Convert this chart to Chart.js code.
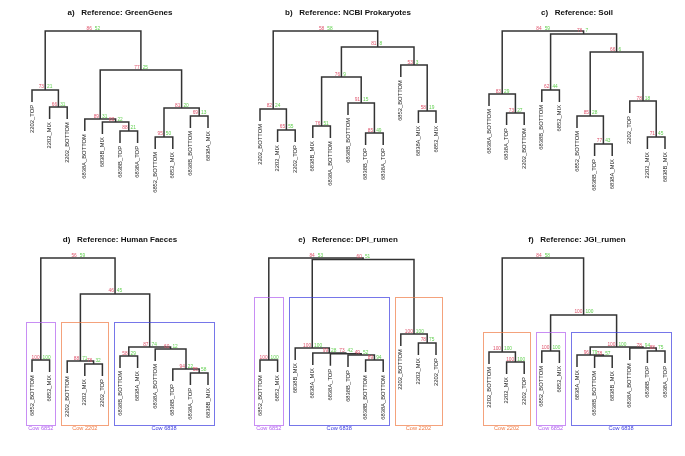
<!DOCTYPE html>
<html>
<head>
<meta charset="utf-8">
<script src="https://cdn.jsdelivr.net/npm/chart.js@4"></script>
<style>
  body { margin: 0; background: #fff; }
  #wrap { position: relative; width: 685px; height: 456px; }
  #wrap canvas { position: absolute; }
</style>
</head>
<body>
<div id="wrap"></div>
<script>
// leaf order, merges (hclust style: -n = leaf n, +k = merge k), heights, AU / BP values

const leavesA = ["2202_TOP", "2202_MIX", "2202_BOTTOM", "6838A_BOTTOM", "6838B_MIX", "6838B_TOP", "6838A_TOP", "6852_BOTTOM", "6852_MIX", "6838B_BOTTOM", "6838A_MIX"]
const mergeA = [[-8, -9], [-6, -7], [-5, 2], [-4, 3], [-10, -11], [1, 5], [-2, -3], [-1, 7], [4, 6], [8, 9]]
const heightA = [0.243, 0.286, 0.35, 0.371, 0.393, 0.45, 0.457, 0.579, 0.721, 1.0]
const auA = [95, 88, 80, 89, 69, 81, 66, 73, 77, 86]
const bpA = [50, 21, 22, 31, 13, 20, 31, 21, 25, 52]

const leavesB = ["2202_BOTTOM", "2202_MIX", "2202_TOP", "6838B_MIX", "6838A_BOTTOM", "6838B_BOTTOM", "6838B_TOP", "6838A_TOP", "6852_BOTTOM", "6838A_MIX", "6852_MIX"]
const mergeB = [[-7, -8], [-4, -5], [-2, -3], [-6, 1], [-10, -11], [-1, 3], [2, 4], [-9, 5], [7, 8], [6, 9]]
const heightB = [0.271, 0.321, 0.293, 0.486, 0.429, 0.443, 0.671, 0.757, 0.886, 1.0]
const auB = [85, 76, 65, 91, 58, 82, 76, 53, 81, 58]
const bpB = [49, 51, 55, 15, 19, 24, 9, 3, 8, 58]

const leavesC = ["6838A_BOTTOM", "6838A_TOP", "2202_BOTTOM", "6838B_BOTTOM", "6852_MIX", "6852_BOTTOM", "6838B_TOP", "6838A_MIX", "2202_TOP", "2202_MIX", "6838B_MIX"]
const mergeC = [[-7, -8], [-10, -11], [-2, -3], [-6, 1], [-9, 2], [-4, -5], [-1, 3], [4, 5], [6, 8], [7, 9]]
const heightC = [0.193, 0.243, 0.414, 0.393, 0.5, 0.579, 0.55, 0.85, 0.979, 1.0]
const auC = [77, 71, 73, 85, 78, 62, 83, 66, 76, 84]
const bpC = [43, 45, 27, 28, 18, 44, 29, 6, 7, 59]

const leavesD = ["6852_BOTTOM", "6852_MIX", "2202_BOTTOM", "2202_MIX", "2202_TOP", "6838B_BOTTOM", "6838A_MIX", "6838A_BOTTOM", "6838B_TOP", "6838A_TOP", "6838B_MIX"]
const mergeD = [[-10, -11], [-9, 1], [-4, -5], [-3, 3], [-1, -2], [-6, -7], [-8, 2], [6, 7], [4, 8], [5, 9]]
const heightD = [0.179, 0.207, 0.243, 0.264, 0.271, 0.3, 0.35, 0.364, 0.743, 1.0]
const auD = [55, 94, 76, 88, 100, 58, 60, 87, 46, 56]
const bpD = [58, 22, 32, 71, 100, 29, 12, 74, 45, 59]
const groupsD = [["Cow 6852", 1, 2], ["Cow 2202", 3, 5], ["Cow 6838", 6, 11]]

const leavesE = ["6852_BOTTOM", "6852_MIX", "6838B_MIX", "6838A_MIX", "6838A_TOP", "6838B_TOP", "6838B_BOTTOM", "6838A_BOTTOM", "2202_BOTTOM", "2202_MIX", "2202_TOP"]
const mergeE = [[-7, -8], [-6, 1], [-5, 2], [-4, 3], [-3, 4], [-1, -2], [-10, -11], [-9, 7], [5, 8], [6, 9]]
const heightE = [0.271, 0.307, 0.316, 0.321, 0.357, 0.271, 0.393, 0.457, 0.99, 1.0]
const auE = [89, 49, 73, 99, 100, 100, 78, 100, 60, 84]
const bpE = [94, 52, 42, 28, 100, 100, 75, 100, 51, 53]
const groupsE = [["Cow 6852", 1, 2], ["Cow 6838", 3, 8], ["Cow 2202", 9, 11]]

const leavesF = ["2202_BOTTOM", "2202_MIX", "2202_TOP", "6852_BOTTOM", "6852_MIX", "6838A_MIX", "6838B_BOTTOM", "6838B_MIX", "6838A_BOTTOM", "6838B_TOP", "6838A_TOP"]
const mergeF = [[-2, -3], [-1, 1], [-4, -5], [-7, -8], [-6, 4], [-10, -11], [-9, 6], [5, 7], [3, 8], [2, 9]]
const heightF = [0.257, 0.329, 0.336, 0.3, 0.307, 0.336, 0.357, 0.364, 0.593, 1.0]
const auF = [100, 100, 100, 78, 96, 88, 78, 100, 100, 84]
const bpF = [100, 100, 100, 57, 79, 75, 94, 100, 100, 58]
const groupsF = [["Cow 2202", 1, 3], ["Cow 6852", 4, 5], ["Cow 6838", 6, 11]]

const cowColors = { "Cow 6852": "#b05ef0", "Cow 2202": "#f07a45", "Cow 6838": "#3c3ce0" }

const FONT = "'Liberation Sans', Arial, Helvetica, sans-serif"
const HANG = 0.086
const LINE = "#333333"

const panels = [
  { title: "a)   Reference: GreenGenes", leaves: leavesA, merge: mergeA, height: heightA, au: auA, bp: bpA, left: 0, top: 0 },
  { title: "b)   Reference: NCBI Prokaryotes", leaves: leavesB, merge: mergeB, height: heightB, au: auB, bp: bpB, left: 228, top: 0 },
  { title: "c)   Reference: Soil", leaves: leavesC, merge: mergeC, height: heightC, au: auC, bp: bpC, left: 457, top: 0 },
  { title: "d)   Reference: Human Faeces", leaves: leavesD, merge: mergeD, height: heightD, au: auD, bp: bpD, groups: groupsD, boxTop: 0.543, left: 0, top: 228 },
  { title: "e)   Reference: DPI_rumen", leaves: leavesE, merge: mergeE, height: heightE, au: auE, bp: bpE, groups: groupsE, boxTop: 0.721, left: 228, top: 228 },
  { title: "f)   Reference: JGI_rumen", leaves: leavesF, merge: mergeF, height: heightF, au: auF, bp: bpF, groups: groupsF, boxTop: 0.471, left: 457, top: 228 }
]

// work out node positions like plot.hclust: node x = middle of its two children
function layoutTree(p) {
  const nodes = []
  const leafEnd = []
  const child = (c, h) => {
    if (c < 0) {
      leafEnd[-c] = h - HANG
      return { x: -c, y: h - HANG }
    }
    return { x: nodes[c - 1].x, y: nodes[c - 1].h }
  }
  p.merge.forEach(([l, r], i) => {
    const h = p.height[i]
    const a = child(l, h)
    const b = child(r, h)
    nodes.push({ x: (a.x + b.x) / 2, h: h, seg: [a, { x: a.x, y: h }, { x: b.x, y: h }, b] })
  })
  return { nodes, leafEnd }
}

const treeText = {
  id: "treeText",
  afterDraw(chart) {
    const p = chart.config.options.panel
    const tree = chart.config.options.tree
    const xs = chart.scales.x
    const ys = chart.scales.y
    const ctx = chart.ctx
    ctx.save()

    // leaf labels, rotated, reading upwards
    ctx.fillStyle = "#222"
    ctx.font = `5.8px ${FONT}`
    ctx.textAlign = "right"
    ctx.textBaseline = "middle"
    p.leaves.forEach((name, i) => {
      const px = xs.getPixelForValue(i + 1)
      const py = ys.getPixelForValue(tree.leafEnd[i + 1]) + 3
      ctx.save()
      ctx.translate(px, py)
      ctx.rotate(-Math.PI / 2)
      ctx.fillText(name, 0, 0)
      ctx.restore()
    })

    // au (red) / bp (green) values at each node
    ctx.font = `4.8px ${FONT}`
    ctx.textBaseline = "alphabetic"
    tree.nodes.forEach((n, i) => {
      const px = xs.getPixelForValue(n.x)
      const py = ys.getPixelForValue(n.h) - 1.5
      ctx.fillStyle = "#DF536B"
      ctx.textAlign = "right"
      ctx.fillText(String(p.au[i]), px - 1.2, py)
      ctx.fillStyle = "#61D04F"
      ctx.textAlign = "left"
      ctx.fillText(String(p.bp[i]), px + 1.8, py)
    })

    // cow boxes
    if (p.groups) {
      p.groups.forEach(([label, from, to]) => {
        const x0 = xs.getPixelForValue(from - 0.33)
        const x1 = xs.getPixelForValue(to + 0.33)
        const y0 = ys.getPixelForValue(p.boxTop)
        const y1 = ys.getPixelForValue(-0.19)
        ctx.strokeStyle = cowColors[label]
        ctx.globalAlpha = 0.7
        ctx.lineWidth = 1
        ctx.strokeRect(Math.round(x0) + 0.5, Math.round(y0) + 0.5, Math.round(x1 - x0), Math.round(y1 - y0))
        ctx.globalAlpha = 1
        ctx.fillStyle = cowColors[label]
        ctx.font = `5.6px ${FONT}`
        ctx.textAlign = "center"
        ctx.textBaseline = "top"
        ctx.fillText(label, (x0 + x1) / 2, y1 + 1)
      })
    }
    ctx.restore()
  }
}

const wrap = document.getElementById("wrap")

panels.forEach(p => {
  const canvas = document.createElement("canvas")
  canvas.width = 228
  canvas.height = 228
  canvas.style.left = p.left + "px"
  canvas.style.top = p.top + "px"
  wrap.appendChild(canvas)

  const tree = layoutTree(p)
  const bottomRow = p.top > 0

  new Chart(canvas, {
    type: "scatter",
    data: {
      datasets: tree.nodes.map(n => ({
        data: n.seg,
        showLine: true,
        borderColor: LINE,
        borderWidth: 1.5,
        pointRadius: 0,
        tension: 0,
        clip: false
      }))
    },
    options: {
      panel: p,
      tree: tree,
      responsive: false,
      animation: false,
      events: [],
      layout: { padding: { left: 23.2, right: 11.2, top: 0, bottom: bottomRow ? 58 : 57 } },
      plugins: {
        legend: { display: false },
        tooltip: { enabled: false },
        title: {
          display: true,
          text: p.title,
          color: "#111",
          font: { family: FONT, size: 8, weight: "bold", lineHeight: 1.2 },
          padding: { top: bottomRow ? 7.2 : 8.2, bottom: 13.2 }
        }
      },
      scales: {
        x: { type: "linear", min: 0.5, max: 11.5, display: false },
        y: { type: "linear", min: 0, max: 1, display: false }
      }
    },
    plugins: [treeText]
  })
})
</script>
</body>
</html>
